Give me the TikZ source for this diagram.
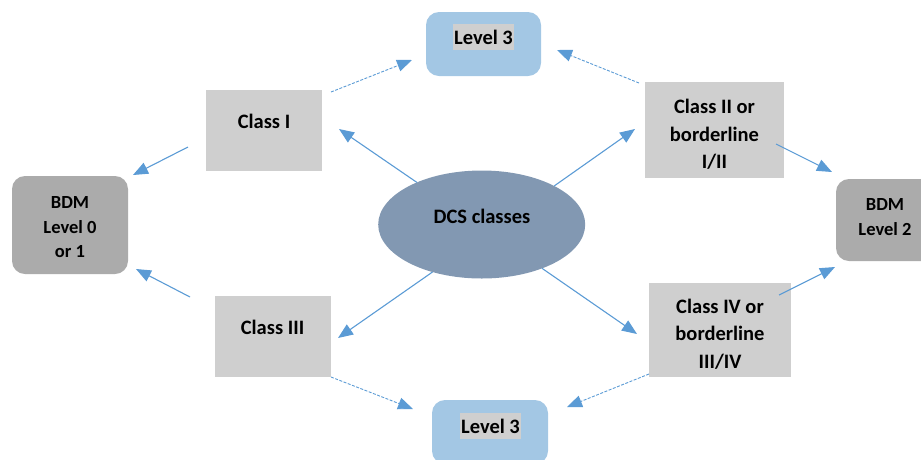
\documentclass[tikz,border=0pt]{standalone}
\usepackage{fontspec}
\setmainfont{Carlito}
\usetikzlibrary{arrows.meta,shapes.geometric}
\definecolor{lblue}{RGB}{163,199,228}
\definecolor{boxgray}{RGB}{207,207,207}
\definecolor{bdmgray}{RGB}{171,171,171}
\definecolor{slate}{RGB}{130,152,178}
\definecolor{arrblue}{RGB}{91,155,213}
\begin{document}
\begin{tikzpicture}[x=1pt,y=-1pt,
  grbox/.style={fill=boxgray,draw=none,inner sep=0pt,outer sep=0pt},
  bdmbox/.style={fill=bdmgray,draw=none,rounded corners=13pt,inner sep=0pt,outer sep=0pt},
  lvlbox/.style={fill=lblue,draw=none,rounded corners=13pt,inner sep=0pt,outer sep=0pt},
  txt/.style={font=\fontsize{20.5}{27.5}\selectfont\bfseries,align=center,inner sep=0pt},
  bdmtxt/.style={font=\fontsize{18.5}{24.5}\selectfont\bfseries,align=center,inner sep=0pt},
  hltxt/.style={font=\fontsize{20.5}{24}\selectfont\bfseries,fill=boxgray,inner xsep=1.3pt,inner ysep=0pt,minimum height=26pt},
  conn/.style={draw=arrblue,line width=1.1pt,-{Triangle[length=15pt,width=12pt]}},
  dconn/.style={draw=arrblue,line width=0.9pt,dash pattern=on 3pt off 1.5pt,-{Triangle[length=15pt,width=12pt]}}
]
\useasboundingbox (0,0) rectangle (921,459);
\clip (0,0) rectangle (921,459);

% boxes
\node[lvlbox,minimum width=115pt,minimum height=64pt] (ltop) at (483.5,44) {};
\node[lvlbox,minimum width=116pt,minimum height=64pt] (lbot) at (490,432) {};
\node[grbox,minimum width=116pt,minimum height=81pt] (c1) at (264,130.5) {};
\node[grbox,minimum width=116pt,minimum height=81pt] (c3) at (273,336.5) {};
\node[grbox,minimum width=139pt,minimum height=96pt] (c2) at (714.5,130) {};
\node[grbox,minimum width=142pt,minimum height=94pt] (c4) at (720,330) {};
\node[bdmbox,minimum width=116pt,minimum height=98pt] (b0) at (70,225) {};
\node[bdmbox,minimum width=100pt,minimum height=82pt] (b2) at (886,220) {};
\node[ellipse,fill=slate,draw=none,inner sep=0pt,outer sep=0pt,minimum width=207pt,minimum height=108pt] (dcs) at (481.7,224.5) {};

% texts
\node[hltxt] (ltoptxt) at (483.5,37) {Level 3};
\node[hltxt] (lbottxt) at (490.5,426) {Level 3};
\node[txt] (c1txt) at (264,121) {Class I};
\node[txt] (c3txt) at (272.5,327) {Class III};
\node[txt] (c2txt) at (714.5,134.5) {Class II or\\borderline\\I/II};
\node[txt] (c4txt) at (720,334) {Class IV or\\borderline\\III/IV};
\node[bdmtxt] (b0txt) at (70,227.5) {BDM\\Level 0\\or 1};
\node[bdmtxt] (b2txt) at (885,217) {BDM\\Level 2};
\node[txt] (dcstxt) at (482,216) {DCS classes};

% connector end points
\coordinate (s1) at (188,147);  \coordinate (e1) at (133,175);
\coordinate (s2) at (190,297);  \coordinate (e2) at (136,269);
\coordinate (e3) at (339,129);
\coordinate (e4) at (635,129);
\coordinate (e5) at (338,338);
\coordinate (e6) at (637,334);
\coordinate (s7) at (776,144);  \coordinate (e7) at (832,172);
\coordinate (s8) at (779,295);  \coordinate (e8) at (835,267);
\coordinate (ds1) at (331,92);  \coordinate (de1) at (412,60);
\coordinate (ds2) at (639,83);  \coordinate (de2) at (557,50);
\coordinate (ds3) at (331,377); \coordinate (de3) at (413,409);
\coordinate (ds4) at (649,374); \coordinate (de4) at (567,407);

% solid connectors
\draw[conn] (s1) -- (e1);
\draw[conn] (s2) -- (e2);
\draw[conn] (dcs.147) -- (e3);
\draw[conn] (dcs.28) -- (e4);
\draw[conn] (dcs.224) -- (e5);
\draw[conn] (dcs.324) -- (e6);
\draw[conn] (s7) -- (e7);
\draw[conn] (s8) -- (e8);

% dashed connectors
\draw[dconn] (ds1) -- (de1);
\draw[dconn] (ds2) -- (de2);
\draw[dconn] (ds3) -- (de3);
\draw[dconn] (ds4) -- (de4);
\end{tikzpicture}
\end{document}
